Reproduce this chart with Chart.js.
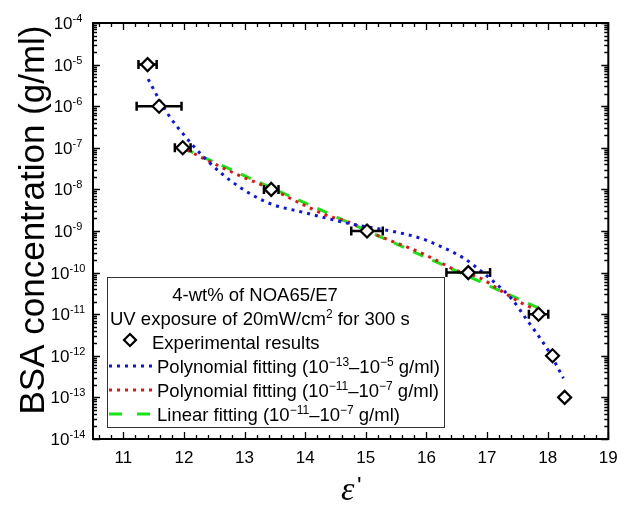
<!DOCTYPE html>
<html><head><meta charset="utf-8">
<script src="https://cdn.jsdelivr.net/npm/chart.js@4"></script>
<style>html,body{margin:0;padding:0;background:#fff}canvas{display:block}</style>
</head><body>
<canvas id="c" width="617" height="516"></canvas>
<script>
// ---- data ----
const xTicks = [11, 12, 13, 14, 15, 16, 17, 18, 19];
const yTickExps = [-4, -5, -6, -7, -8, -9, -10, -11, -12, -13, -14];

const expX    = [11.40, 11.59, 11.98, 13.44, 15.02, 16.69, 17.85, 18.08, 18.28];
const expY    = [1e-5, 1e-6, 1e-7, 1e-8, 1e-9, 1e-10, 1e-11, 1e-12, 1e-13];
const expXErr = [0.15, 0.37, 0.13, 0.12, 0.26, 0.36, 0.16, 0, 0];

const polyAllX = [11.41, 11.61, 11.78, 12.00, 12.14, 12.43, 12.75, 13.11, 13.47, 13.91, 14.35, 14.78, 15.11, 15.55, 15.93, 16.26, 16.62, 16.81, 17.08, 17.41, 17.66, 17.80, 18.02, 18.26];
const polyAllY = [4.47e-6, 1.29e-6, 5.2e-7, 2.04e-7, 1.17e-7, 4.27e-8, 1.70e-8, 7.59e-9, 4.27e-9, 2.95e-9, 2.04e-9, 1.45e-9, 1.20e-9, 9.1e-10, 6.5e-10, 4.1e-10, 2.2e-10, 1.38e-10, 6.6e-11, 2.3e-11, 7.2e-12, 3.8e-12, 1.26e-12, 2.9e-13];

const polyMidX = [12.05, 12.37, 12.92, 13.47, 13.91, 14.35, 14.78, 15.00, 15.39, 15.74, 16.10, 16.48, 16.87, 17.25, 17.58, 17.83];
const polyMidY = [8.9e-8, 5.1e-8, 2.14e-8, 9.8e-9, 4.7e-9, 2.4e-9, 1.51e-9, 1.05e-9, 6.0e-10, 3.8e-10, 2.2e-10, 1.15e-10, 7.6e-11, 3.5e-11, 1.82e-11, 1.26e-11];

const linX = [11.99, 17.85];
const linY = [9.8e-8, 1.41e-11];

const legendTitle = '4-wt% of NOA65/E7';
const legendUV = [['UV exposure of 20mW/cm', 0], ['2', 1], [' for 300 s', 0]];
const legendExp = [['Experimental results', 0]];
const legendBlue = [['Polynomial fitting (10', 0], ['\u221213', 1], ['\u201310', 0], ['\u22125', 1], [' g/ml)', 0]];
const legendRed = [['Polynomial fitting (10', 0], ['\u221211', 1], ['\u201310', 0], ['\u22127', 1], [' g/ml)', 0]];
const legendGreen = [['Linear fitting (10', 0], ['\u221211', 1], ['\u201310', 0], ['\u22127', 1], [' g/ml)', 0]];
const yTitle = 'BSA concentration (g/ml)';

const BLUE = '#0a14f0', RED = '#f01010', GREEN = '#14e614';
const FONT = '"Liberation Sans", Arial, sans-serif';

const toXY = (xs, ys) => xs.map((x, i) => ({x, y: ys[i]}));

function rich(ctx, parts, x, y, align, mainPx, supPx, rise) {
  let w = 0;
  parts.forEach(p => { ctx.font = (p[1] ? supPx : mainPx) + 'px ' + FONT; w += ctx.measureText(p[0]).width; });
  let cx = align === 'center' ? x - w / 2 : (align === 'right' ? x - w : x);
  ctx.textAlign = 'left'; ctx.textBaseline = 'alphabetic';
  parts.forEach(p => {
    ctx.font = (p[1] ? supPx : mainPx) + 'px ' + FONT;
    ctx.fillText(p[0], cx, p[1] ? y - rise : y);
    cx += ctx.measureText(p[0]).width;
  });
}

const deco = {
  id: 'deco',
  beforeDatasetDraw(chart, args) {
    if (args.index !== 0) return;
    const ctx = chart.ctx, xs = chart.scales.x, ys = chart.scales.y;
    ctx.save();
    ctx.strokeStyle = '#000'; ctx.lineWidth = 2.5;
    expX.forEach((x, i) => {
      const e = expXErr[i]; if (!e) return;
      const y = ys.getPixelForValue(expY[i]);
      const x1 = xs.getPixelForValue(x - e), x2 = xs.getPixelForValue(x + e);
      ctx.beginPath();
      ctx.moveTo(x1, y); ctx.lineTo(x2, y);
      ctx.moveTo(x1, y - 4.5); ctx.lineTo(x1, y + 4.5);
      ctx.moveTo(x2, y - 4.5); ctx.lineTo(x2, y + 4.5);
      ctx.stroke();
    });
    ctx.restore();
  },
  afterDraw(chart) {
    const ctx = chart.ctx, xs = chart.scales.x, ys = chart.scales.y, a = chart.chartArea;
    ctx.save();
    // ticks
    ctx.strokeStyle = '#000'; ctx.lineWidth = 1.3;
    ctx.beginPath();
    for (let v = 10.6; v < 19.01; v += 0.2) {
      const major = Math.abs(v - Math.round(v)) < 1e-6;
      const L = major ? 7 : 4;
      const px = Math.round(xs.getPixelForValue(v)) + 0.5;
      ctx.moveTo(px, a.bottom); ctx.lineTo(px, a.bottom - L);
      ctx.moveTo(px, a.top); ctx.lineTo(px, a.top + L);
    }
    for (let d = -14; d <= -4; d++) {
      for (let m = 1; m <= 9; m++) {
        if (d === -4 && m > 1) break;
        const L = m === 1 ? 7 : 4;
        const py = Math.round(ys.getPixelForValue(m * Math.pow(10, d))) + 0.5;
        ctx.moveTo(a.left, py); ctx.lineTo(a.left + L, py);
        ctx.moveTo(a.right, py); ctx.lineTo(a.right - L, py);
      }
    }
    ctx.stroke();
    // frame
    ctx.lineWidth = 2;
    ctx.strokeRect(a.left, a.top, a.right - a.left, a.bottom - a.top);

    // tick labels
    ctx.fillStyle = '#000';
    ctx.font = '17px ' + FONT; ctx.textAlign = 'center'; ctx.textBaseline = 'middle';
    xTicks.forEach(v => ctx.fillText(String(v), xs.getPixelForValue(v), 458));
    yTickExps.forEach(e => {
      const py = ys.getPixelForValue(Math.pow(10, e));
      rich(ctx, [['10', 0], [String(e), 1]], 68, py + 6, 'center', 17, 11, 7);
    });

    // axis titles
    ctx.save();
    ctx.translate(34, 220); ctx.rotate(-Math.PI / 2);
    ctx.font = '35px ' + FONT; ctx.textAlign = 'center'; ctx.textBaseline = 'middle';
    ctx.fillText(yTitle, 0, 0);
    ctx.restore();
    ctx.font = 'italic 34px "Liberation Serif", "Times New Roman", serif';
    ctx.textAlign = 'left'; ctx.textBaseline = 'alphabetic';
    ctx.fillText('\u03b5', 341, 500);
    ctx.font = '24px ' + FONT;
    ctx.fillText("'", 357, 494);

    // legend
    const LX = 107, LY = 277, LW = 337, LH = 150;
    ctx.fillStyle = '#fff'; ctx.fillRect(LX, LY, LW, LH);
    ctx.strokeStyle = '#333'; ctx.lineWidth = 1;
    ctx.strokeRect(LX + 0.5, LY + 0.5, LW, LH);
    ctx.fillStyle = '#000';
    const rows = [294, 318, 342, 366, 390, 414].map(r => r + 6.5);
    rich(ctx, [[legendTitle, 0]], 255, rows[0], 'center', 18.5, 12, 7);
    rich(ctx, legendUV, 110, rows[1], 'left', 18.5, 12, 7);
    // diamond symbol
    const dx = 130, dy = 340;
    ctx.beginPath(); ctx.moveTo(dx, dy - 6); ctx.lineTo(dx + 6, dy); ctx.lineTo(dx, dy + 6); ctx.lineTo(dx - 6, dy); ctx.closePath();
    ctx.fillStyle = '#fff'; ctx.fill(); ctx.strokeStyle = '#000'; ctx.lineWidth = 2.2; ctx.stroke();
    ctx.fillStyle = '#000';
    rich(ctx, legendExp, 152, rows[2], 'left', 18.5, 12, 7);
    const sample = (y, color, dash) => {
      ctx.save(); ctx.strokeStyle = color; ctx.lineWidth = 3; ctx.setLineDash(dash);
      ctx.beginPath(); ctx.moveTo(109, y); ctx.lineTo(152, y); ctx.stroke(); ctx.restore();
    };
    sample(366, BLUE, [3, 5]);
    sample(390, RED, [3, 5]);
    sample(414, GREEN, [13, 15]);
    rich(ctx, legendBlue, 157, rows[3], 'left', 18.5, 12, 7);
    rich(ctx, legendRed, 157, rows[4], 'left', 18.5, 12, 7);
    rich(ctx, legendGreen, 157, rows[5], 'left', 18.5, 12, 7);
    ctx.restore();
  }
};

new Chart(document.getElementById('c'), {
  type: 'scatter',
  data: {
    datasets: [
      { label: 'Experimental results', data: toXY(expX, expY), showLine: false,
        pointStyle: 'rectRot', pointRadius: 6.5, pointBorderWidth: 2.2,
        pointBackgroundColor: '#fff', pointBorderColor: '#000' },
      { label: 'Polynomial fitting (1e-13 - 1e-5 g/ml)', data: toXY(polyAllX, polyAllY), showLine: true,
        borderColor: BLUE, borderWidth: 3, borderDash: [3, 5], pointRadius: 0, cubicInterpolationMode: 'monotone' },
      { label: 'Polynomial fitting (1e-11 - 1e-7 g/ml)', data: toXY(polyMidX, polyMidY), showLine: true,
        borderColor: RED, borderWidth: 3, borderDash: [3, 5], pointRadius: 0, cubicInterpolationMode: 'monotone' },
      { label: 'Linear fitting (1e-11 - 1e-7 g/ml)', data: toXY(linX, linY), showLine: true,
        borderColor: GREEN, borderWidth: 3, borderDash: [11, 10], pointRadius: 0 }
    ]
  },
  options: {
    responsive: false, animation: false, clip: false,
    layout: { padding: { left: 93, right: 7.5, top: 23, bottom: 77 } },
    plugins: { legend: { display: false }, tooltip: { enabled: false } },
    scales: {
      x: { type: 'linear', min: 10.5, max: 19, display: false },
      y: { type: 'logarithmic', min: 1e-14, max: 1e-4, display: false }
    }
  },
  plugins: [deco]
});
</script>
</body></html>
